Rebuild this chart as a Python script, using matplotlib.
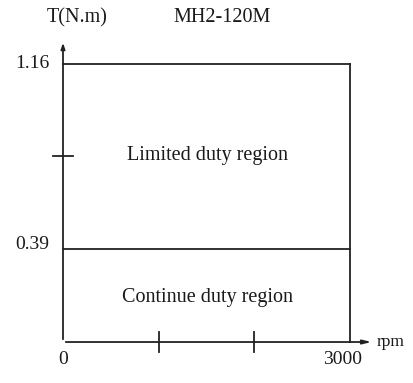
import matplotlib.pyplot as plt

# chart values
model = 'MH2-120M'
rated_speed = 3000
torque_levels = [0.39, 1.16]   # continuous, peak torque (N.m)
x_ticks = [1000, 2000]
y_ticks = [0.775]

plt.rcParams['font.family'] = ['Liberation Serif', 'DejaVu Serif']

fig = plt.figure(figsize=(4.14, 3.83), dpi=100)
ax = fig.add_axes([0, 0, 1, 1])
ax.set_xlim(-658.5, 3669)
ax.set_ylim(-0.171, 1.4268)
ax.axis('off')

lc = '#222222'
lw = 1.3

# axes with arrows
ax.annotate('', xy=(0, 1.26), xytext=(0, 0),
            arrowprops=dict(arrowstyle='-|>,head_length=0.35,head_width=0.12', color=lc, lw=lw))
ax.annotate('', xy=(3255, 0), xytext=(0, 0),
            arrowprops=dict(arrowstyle='-|>,head_length=0.5,head_width=0.12', color=lc, lw=lw))

# duty region outlines
for t in torque_levels:
    ax.plot([0, rated_speed], [t, t], color=lc, lw=lw)
ax.plot([rated_speed, rated_speed], [0, max(torque_levels)], color=lc, lw=lw)

# ticks
for xt in x_ticks:
    ax.plot([xt, xt], [-0.04, 0.04], color=lc, lw=lw)
for yt in y_ticks:
    ax.plot([-100, 100], [yt, yt], color=lc, lw=lw)

fs = 14.5
tc = '#1a1a1a'
ax.text(146, 1.352, 'T(N.m)', ha='center', va='center', fontsize=fs, color=tc)
ax.text(1662, 1.352, model, ha='center', va='center', fontsize=fs, color=tc)
ax.text(-140, max(torque_levels), '%.2f' % torque_levels[1], ha='right', va='center', fontsize=fs - 0.5, color=tc)
ax.text(-140, torque_levels[0] + 0.015, '%.2f' % torque_levels[0], ha='right', va='center', fontsize=fs - 0.5, color=tc)
ax.text(0, -0.075, '0', ha='center', va='center', fontsize=fs - 0.5, color=tc)
ax.text(2920, -0.075, str(rated_speed), ha='center', va='center', fontsize=fs - 0.5, color=tc)
ax.text(3280, 0.0, 'rpm', ha='left', va='center', fontsize=fs - 2, color=tc)
ax.text(1515, 0.78, 'Limited duty region', ha='center', va='center', fontsize=fs, color=tc)
ax.text(1515, 0.184, 'Continue duty region', ha='center', va='center', fontsize=fs, color=tc)

fig.savefig('out.png', dpi=100)
